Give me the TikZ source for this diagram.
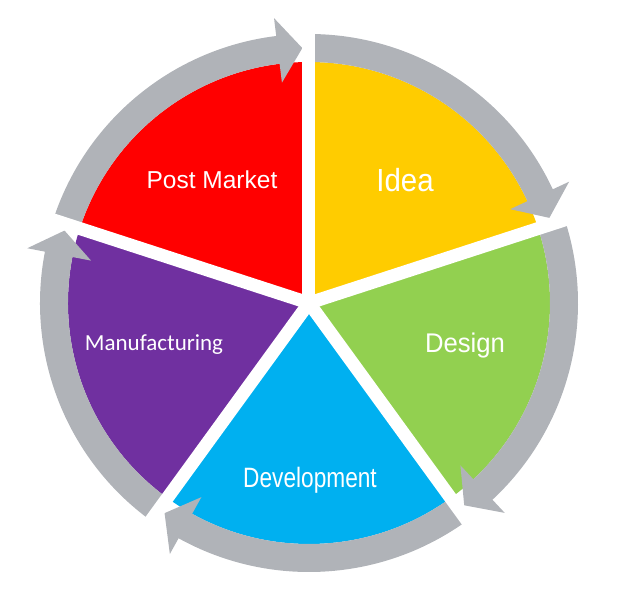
\documentclass[tikz,border=0pt]{standalone}
\usepackage{fontspec}
\setmainfont{Liberation Sans}
\newfontfamily\calfont{Carlito}
\definecolor{ideacol}{HTML}{FFCC00}
\definecolor{designcol}{HTML}{92D050}
\definecolor{devcol}{HTML}{00B0F0}
\definecolor{mancol}{HTML}{7030A0}
\definecolor{postcol}{HTML}{FF0000}
\definecolor{ringcol}{HTML}{B0B3B8}

\begin{document}
\begin{tikzpicture}[x=1pt, y=1pt,
    wedge/.style = {draw=none},
    band/.style = {fill=ringcol, draw=none},
    gap/.style = {draw=white, line width=13pt},
    lbl/.style = {text=white, anchor=base, inner sep=0pt}]
    \useasboundingbox (-309,-301) rectangle (313,303);

    % the five slices, separators at 90, 18, -54, -126, 162
    \fill[ideacol] (0,0) -- (90:241) arc[start angle=90, end angle=18, radius=241pt] -- cycle;
    \fill[designcol] (0,0) -- (18:241) arc[start angle=18, end angle=-54, radius=241pt] -- cycle;
    \fill[devcol] (0,0) -- (-54:241) arc[start angle=-54, end angle=-126, radius=241pt] -- cycle;
    \fill[mancol] (0,0) -- (-126:241) arc[start angle=-126, end angle=-198, radius=241pt] -- cycle;
    \fill[postcol] (0,0) -- (162:241) arc[start angle=162, end angle=90, radius=241pt] -- cycle;

    % grey arrows round the ring, clockwise
    \foreach \s in {90, 18, -54, -126, 162} {
        \pgfmathsetmacro{\b}{\s-65}
        \pgfmathsetmacro{\t}{\s-70.5}
        \fill[band] (\s:269) arc[start angle=\s, end angle=\b, radius=269pt]
            -- (\b:287) -- (\t:255) -- (\b:222) -- (\b:241)
            arc[start angle=\b, end angle=\s, radius=241pt] -- cycle;
    }

    % white gaps between the slices
    \foreach \s in {90, 18, -54, -126, 162}
        \draw[gap] (0,0) -- (\s:300);

    \node[lbl] (idea) at (96,111) {\fontsize{32}{32}\selectfont\scalebox{0.92}[1]{Idea}};
    \node[lbl] (design) at (156,-50) {\fontsize{27}{27}\selectfont\scalebox{0.95}[1]{Design}};
    \node[lbl] (dev) at (1,-185) {\fontsize{28}{28}\selectfont\scalebox{0.81}[1]{Development}};
    \node[lbl] (manuf) at (-155,-48) {\calfont\fontsize{23}{23}\selectfont Manufacturing};
    \node[lbl] (post) at (-97,114) {\fontsize{24.5}{24.5}\selectfont Post Market};

\end{tikzpicture}
\end{document}
